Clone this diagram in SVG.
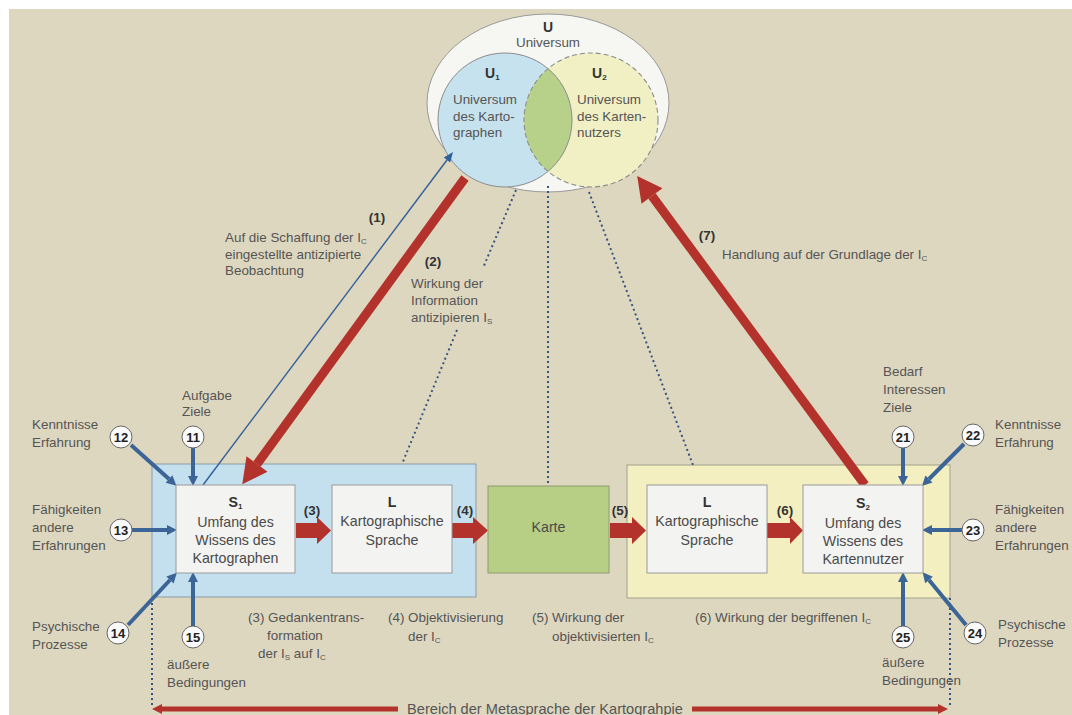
<svg xmlns="http://www.w3.org/2000/svg" width="1072" height="715" viewBox="0 0 1072 715">
  <style>
    text { font-family: "Liberation Sans", Arial, sans-serif; fill: #555; font-size: 13.4px; }
    .t { font-size: 14.2px; fill: #4a4a4a; }
    .b { font-weight: bold; fill: #333; }
    .m { text-anchor: middle; }
    .num { font-weight: bold; fill: #222; text-anchor: middle; font-size: 13px; }
    .sub { font-size: 8px; }
    .box { fill: #f3f3f1; stroke: #9a9a9a; stroke-width: 1; }
    .badge { fill: #fafafa; stroke: #666; stroke-width: 1; }
    .inflow { stroke: #3b6596; stroke-width: 4; fill: none; marker-end: url(#blueHead); }
    .dots { stroke: #35557f; stroke-width: 2; stroke-dasharray: 2 3; fill: none; }
    .redblock { fill: #b3322b; }
  </style>
  <defs>
    <marker id="blueHead" markerUnits="userSpaceOnUse" markerWidth="10" markerHeight="10" refX="0" refY="5" orient="auto" overflow="visible">
      <path d="M0,0 L10,5 L0,10 Z" fill="#3b6596"/>
    </marker>
    <marker id="thinHead" markerUnits="userSpaceOnUse" markerWidth="10" markerHeight="8" refX="0" refY="4" orient="auto" overflow="visible">
      <path d="M0,0 L10,4 L0,8 Z" fill="#2f5f9a"/>
    </marker>
    <marker id="redHead" markerUnits="userSpaceOnUse" markerWidth="25" markerHeight="26" refX="0" refY="13" orient="auto" overflow="visible">
      <path d="M0,0 L25,13 L0,26 Z" fill="#b3322b"/>
    </marker>
    <marker id="redSmall" markerUnits="userSpaceOnUse" markerWidth="10" markerHeight="10" refX="0" refY="5" orient="auto" overflow="visible">
      <path d="M0,0 L10,5 L0,10 Z" fill="#b3322b"/>
    </marker>
    <clipPath id="clipU1">
      <circle cx="505" cy="120" r="67"/>
    </clipPath>
  </defs>

  <!-- paper -->
  <rect x="0" y="0" width="1072" height="715" fill="#ffffff"/>
  <rect x="9" y="9" width="1063" height="706" fill="#ded7bf"/>

  <!-- universe -->
  <g id="universe">
    <ellipse cx="548" cy="103" rx="121" ry="89" fill="#f6f6f3" stroke="#999" stroke-width="1"/>
    <text x="548" y="32" class="b m" style="font-size:14px">U</text>
    <text x="548" y="47" class="m">Universum</text>
  </g>
  <g id="u1">
    <circle cx="505" cy="120" r="67" fill="#c6e2ef"/>
  </g>
  <g id="u2">
    <circle cx="591" cy="120" r="67" fill="#f1efc4"/>
  </g>
  <g id="overlap">
    <circle cx="591" cy="120" r="67" fill="#b8d18a" clip-path="url(#clipU1)"/>
  </g>
  <circle cx="505" cy="120" r="67" fill="none" stroke="#8c8c8c" stroke-width="1"/>
  <circle cx="591" cy="120" r="67" fill="none" stroke="#8c8c8c" stroke-width="1.1" stroke-dasharray="5 3"/>
  <g id="u1-label">
    <text x="485" y="78" class="b" style="font-size:14px">U<tspan class="sub" dy="2">1</tspan></text>
    <text x="453" y="104">Universum</text>
    <text x="453" y="121">des Karto-</text>
    <text x="453" y="137">graphen</text>
  </g>
  <g id="u2-label">
    <text x="592" y="78" class="b" style="font-size:14px">U<tspan class="sub" dy="2">2</tspan></text>
    <text x="577" y="104">Universum</text>
    <text x="577" y="121">des Karten-</text>
    <text x="577" y="137">nutzers</text>
  </g>

  <!-- the two areas of knowledge -->
  <g id="cartographer-area">
    <rect x="152" y="464" width="324" height="133" fill="#c4e0ef" stroke="#8b9ba6" stroke-width="1"/>
  </g>
  <g id="user-area">
    <rect x="627" y="465" width="323" height="133" fill="#f3efc1" stroke="#a2a08a" stroke-width="1"/>
  </g>

  <g id="connectors">
    <!-- dotted links from the universes -->
    <line class="dots" x1="516" y1="190" x2="483" y2="268"/>
    <line class="dots" x1="457" y1="330" x2="402" y2="464"/>
    <line class="dots" x1="548" y1="186" x2="548" y2="486"/>
    <line class="dots" x1="589" y1="192" x2="693" y2="465"/>
    <line class="dots" x1="152" y1="598" x2="152" y2="705"/>
    <line class="dots" x1="950" y1="598" x2="950" y2="705"/>

    <!-- (1) anticipated observation -->
    <line x1="203" y1="485" x2="447" y2="160" stroke="#2f5f9a" stroke-width="1.4" marker-end="url(#thinHead)"/>
    <!-- (2) effect of information -->
    <line x1="465" y1="178" x2="257" y2="464" stroke="#b3322b" stroke-width="9" marker-end="url(#redHead)"/>
    <!-- (7) action -->
    <line x1="865" y1="485" x2="652" y2="196" stroke="#b3322b" stroke-width="9" marker-end="url(#redHead)"/>

    <!-- block arrows (3)-(6) -->
    <path class="redblock" d="M296,523 H317 V517 L331,530.5 L317,544 V538 H296 Z"/>
    <path class="redblock" d="M452,523 H473 V517 L488,530.5 L473,544 V538 H452 Z"/>
    <path class="redblock" d="M610,523 H632 V517 L646,530.5 L632,544 V538 H610 Z"/>
    <path class="redblock" d="M767,523 H790 V517 L803,530.5 L790,544 V538 H767 Z"/>

    <!-- influences on S1 -->
    <line class="inflow" x1="131" y1="445" x2="169" y2="479"/>
    <line class="inflow" x1="193" y1="448" x2="193" y2="476"/>
    <line class="inflow" x1="132" y1="530" x2="167" y2="530"/>
    <line class="inflow" x1="128" y1="625" x2="170" y2="580"/>
    <line class="inflow" x1="193" y1="626" x2="193" y2="582"/>

    <!-- influences on S2 -->
    <line class="inflow" x1="903" y1="448" x2="903" y2="476"/>
    <line class="inflow" x1="964" y1="444" x2="929" y2="479"/>
    <line class="inflow" x1="962" y1="530" x2="932" y2="530"/>
    <line class="inflow" x1="966" y1="625" x2="929" y2="580"/>
    <line class="inflow" x1="903" y1="626" x2="903" y2="582"/>

    <!-- metalanguage range -->
    <line x1="398" y1="709" x2="162" y2="709" stroke="#b3322b" stroke-width="5" marker-end="url(#redSmall)"/>
    <line x1="692" y1="709" x2="938" y2="709" stroke="#b3322b" stroke-width="5" marker-end="url(#redSmall)"/>
  </g>

  <g id="s1">
    <rect class="box" x="176" y="485" width="119" height="88"/>
    <text x="235.5" y="507" class="t b m">S<tspan class="sub" dy="2">1</tspan></text>
    <text x="235.5" y="527" class="t m">Umfang des</text>
    <text x="235.5" y="545" class="t m">Wissens des</text>
    <text x="235.5" y="563" class="t m">Kartographen</text>
  </g>
  <g id="l1">
    <rect class="box" x="332" y="485" width="120" height="88"/>
    <text x="392" y="507" class="t b m">L</text>
    <text x="392" y="526" class="t m">Kartographische</text>
    <text x="392" y="545" class="t m">Sprache</text>
  </g>
  <g id="karte">
    <rect x="488" y="486" width="121" height="87" fill="#b7cf85" stroke="#8d9a72" stroke-width="1"/>
    <text x="548.5" y="532" class="t m">Karte</text>
  </g>
  <g id="l2">
    <rect class="box" x="647" y="485" width="120" height="88"/>
    <text x="707" y="507" class="t b m">L</text>
    <text x="707" y="526" class="t m">Kartographische</text>
    <text x="707" y="545" class="t m">Sprache</text>
  </g>
  <g id="s2">
    <rect class="box" x="803" y="485" width="120" height="88"/>
    <text x="863" y="508" class="t b m">S<tspan class="sub" dy="2">2</tspan></text>
    <text x="863" y="528" class="t m">Umfang des</text>
    <text x="863" y="546" class="t m">Wissens des</text>
    <text x="863" y="564" class="t m">Kartennutzer</text>
  </g>

  <!-- numbered influences -->
  <g id="n11"><circle class="badge" cx="193" cy="437" r="11"/><text x="193" y="441.5" class="num">11</text></g>
  <g id="n12"><circle class="badge" cx="121" cy="437" r="11"/><text x="121" y="441.5" class="num">12</text></g>
  <g id="n13"><circle class="badge" cx="121" cy="530" r="11"/><text x="121" y="534.5" class="num">13</text></g>
  <g id="n14"><circle class="badge" cx="118" cy="633" r="11"/><text x="118" y="637.5" class="num">14</text></g>
  <g id="n15"><circle class="badge" cx="193" cy="637" r="11"/><text x="193" y="641.5" class="num">15</text></g>
  <g id="n21"><circle class="badge" cx="903" cy="437" r="11"/><text x="903" y="441.5" class="num">21</text></g>
  <g id="n22"><circle class="badge" cx="973" cy="435" r="11"/><text x="973" y="439.5" class="num">22</text></g>
  <g id="n23"><circle class="badge" cx="973" cy="530" r="11"/><text x="973" y="534.5" class="num">23</text></g>
  <g id="n24"><circle class="badge" cx="975" cy="633" r="11"/><text x="975" y="637.5" class="num">24</text></g>
  <g id="n25"><circle class="badge" cx="903" cy="637" r="11"/><text x="903" y="641.5" class="num">25</text></g>

  <!-- labels -->
  <g id="labels">
    <text x="377" y="222" class="b m">(1)</text>
    <text x="225" y="242">Auf die Schaffung der I<tspan class="sub" dy="2">C</tspan></text>
    <text x="225" y="259">eingestellte antizipierte</text>
    <text x="225" y="275">Beobachtung</text>

    <text x="433" y="266" class="b m">(2)</text>
    <text x="411" y="288">Wirkung der</text>
    <text x="411" y="305">Information</text>
    <text x="411" y="322">antizipieren I<tspan class="sub" dy="2">S</tspan></text>

    <text x="707" y="240" class="b m">(7)</text>
    <text x="722" y="259">Handlung auf der Grundlage der I<tspan class="sub" dy="2">C</tspan></text>

    <text x="312" y="515" class="b m">(3)</text>
    <text x="465" y="515" class="b m">(4)</text>
    <text x="620" y="515" class="b m">(5)</text>
    <text x="785" y="515" class="b m">(6)</text>

    <text x="182" y="400">Aufgabe</text>
    <text x="182" y="416">Ziele</text>
    <text x="32" y="429">Kenntnisse</text>
    <text x="32" y="447">Erfahrung</text>
    <text x="32" y="514">Fähigkeiten</text>
    <text x="32" y="532">andere</text>
    <text x="32" y="550">Erfahrungen</text>
    <text x="32" y="631">Psychische</text>
    <text x="32" y="649">Prozesse</text>
    <text x="167" y="669">äußere</text>
    <text x="167" y="687">Bedingungen</text>

    <text x="883" y="376">Bedarf</text>
    <text x="883" y="394">Interessen</text>
    <text x="883" y="412">Ziele</text>
    <text x="995" y="429">Kenntnisse</text>
    <text x="995" y="447">Erfahrung</text>
    <text x="995" y="514">Fähigkeiten</text>
    <text x="995" y="532">andere</text>
    <text x="995" y="550">Erfahrungen</text>
    <text x="998" y="629">Psychische</text>
    <text x="998" y="647">Prozesse</text>
    <text x="882" y="667">äußere</text>
    <text x="882" y="685">Bedingungen</text>

    <text x="248" y="622">(3) Gedankentrans-</text>
    <text x="267" y="640">formation</text>
    <text x="258" y="658">der I<tspan class="sub" dy="2">S</tspan><tspan dy="-2"> auf I</tspan><tspan class="sub" dy="2">C</tspan></text>
    <text x="388" y="622">(4) Objektivisierung</text>
    <text x="408" y="641">der I<tspan class="sub" dy="2">C</tspan></text>
    <text x="532" y="622">(5) Wirkung der</text>
    <text x="552" y="641">objektivisierten I<tspan class="sub" dy="2">C</tspan></text>
    <text x="695" y="622">(6) Wirkung der begriffenen I<tspan class="sub" dy="2">C</tspan></text>

    <text x="545" y="714" class="m" style="font-size:14.6px">Bereich der Metasprache der Kartograhpie</text>
  </g>
</svg>
